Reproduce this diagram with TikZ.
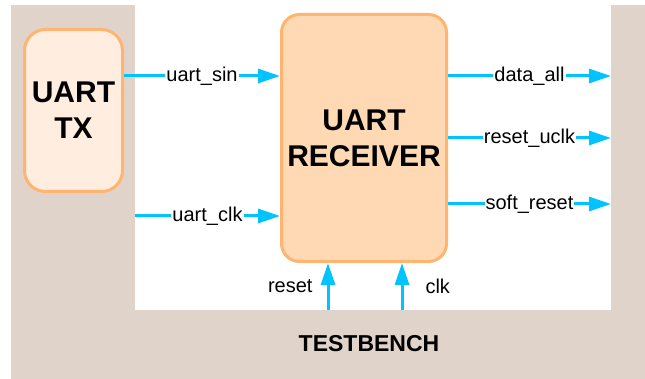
\documentclass[tikz,border=0pt]{standalone}
\usepackage{fontspec}
\setmainfont{Liberation Sans}
\usetikzlibrary{arrows.meta}
\definecolor{tbbeige}{HTML}{E0D4CA}
\definecolor{rxfill}{HTML}{FFD9B3}
\definecolor{txfill}{HTML}{FFEDDF}
\definecolor{boxline}{HTML}{FFB570}
\definecolor{wire}{HTML}{00C3FF}
\begin{document}
\begin{tikzpicture}[x=1pt,y=-1pt,
  plain/.style={inner sep=0pt, outer sep=0pt},
  block/.style={draw=boxline, line width=3pt, align=center, inner sep=0pt,
    font=\bfseries\fontsize{30}{36}\selectfont},
  sig/.style={draw=wire, line width=3pt, -{Triangle[length=22pt,width=14pt]}},
  siglabel/.style={fill=white, inner sep=1pt, font=\fontsize{20}{22}\selectfont},
  pinlabel/.style={inner sep=1pt, font=\fontsize{20}{22}\selectfont},
]
\useasboundingbox (0,0) rectangle (645,379);

% testbench frame and the open area that holds the receiver
\node[plain, fill=tbbeige, anchor=north west, minimum width=634pt, minimum height=374pt] (tb) at (11,5) {};
\node[plain, fill=white, anchor=north west, minimum width=476pt, minimum height=310pt] (area) at (135,0) {};
\node[plain, font=\bfseries\fontsize{23}{26}\selectfont] (tbname) at (369,344) {TESTBENCH};

% blocks
\node[block, fill=txfill, rounded corners=21pt, minimum width=98pt, minimum height=162pt] (tx) at (73.5,110.5) {UART\\TX};
\node[block, fill=rxfill, rounded corners=18pt, minimum width=165pt, minimum height=247pt] (rx) at (364,138) {UART\\RECEIVER};

% signal rows
\coordinate (sinrow) at (0,76);
\coordinate (clkrow) at (0,216);
\coordinate (datarow) at (0,76);
\coordinate (ucrow) at (0,138);
\coordinate (softrow) at (0,204);
\coordinate (rstcol) at (328,0);
\coordinate (clkcol) at (402,0);

% inputs
\draw[sig] (sinrow -| tx.east) -- node[siglabel] {uart\_sin} (sinrow -| rx.west);
\draw[sig] (clkrow -| area.west) -- node[siglabel] {uart\_clk} (clkrow -| rx.west);

% outputs
\draw[sig] (datarow -| rx.east) -- node[siglabel] {data\_all} (datarow -| area.east);
\draw[sig] (ucrow -| rx.east) -- node[siglabel] {reset\_uclk} (ucrow -| area.east);
\draw[sig] (softrow -| rx.east) -- node[siglabel] {soft\_reset} (softrow -| area.east);

% reset and clock from the testbench
\draw[sig] (rstcol |- area.south) -- node[pinlabel, anchor=east, xshift=-13pt] {reset} (rstcol |- rx.south);
\draw[sig] (clkcol |- area.south) -- node[pinlabel, anchor=west, xshift=21pt] {clk} (clkcol |- rx.south);
\end{tikzpicture}
\end{document}
